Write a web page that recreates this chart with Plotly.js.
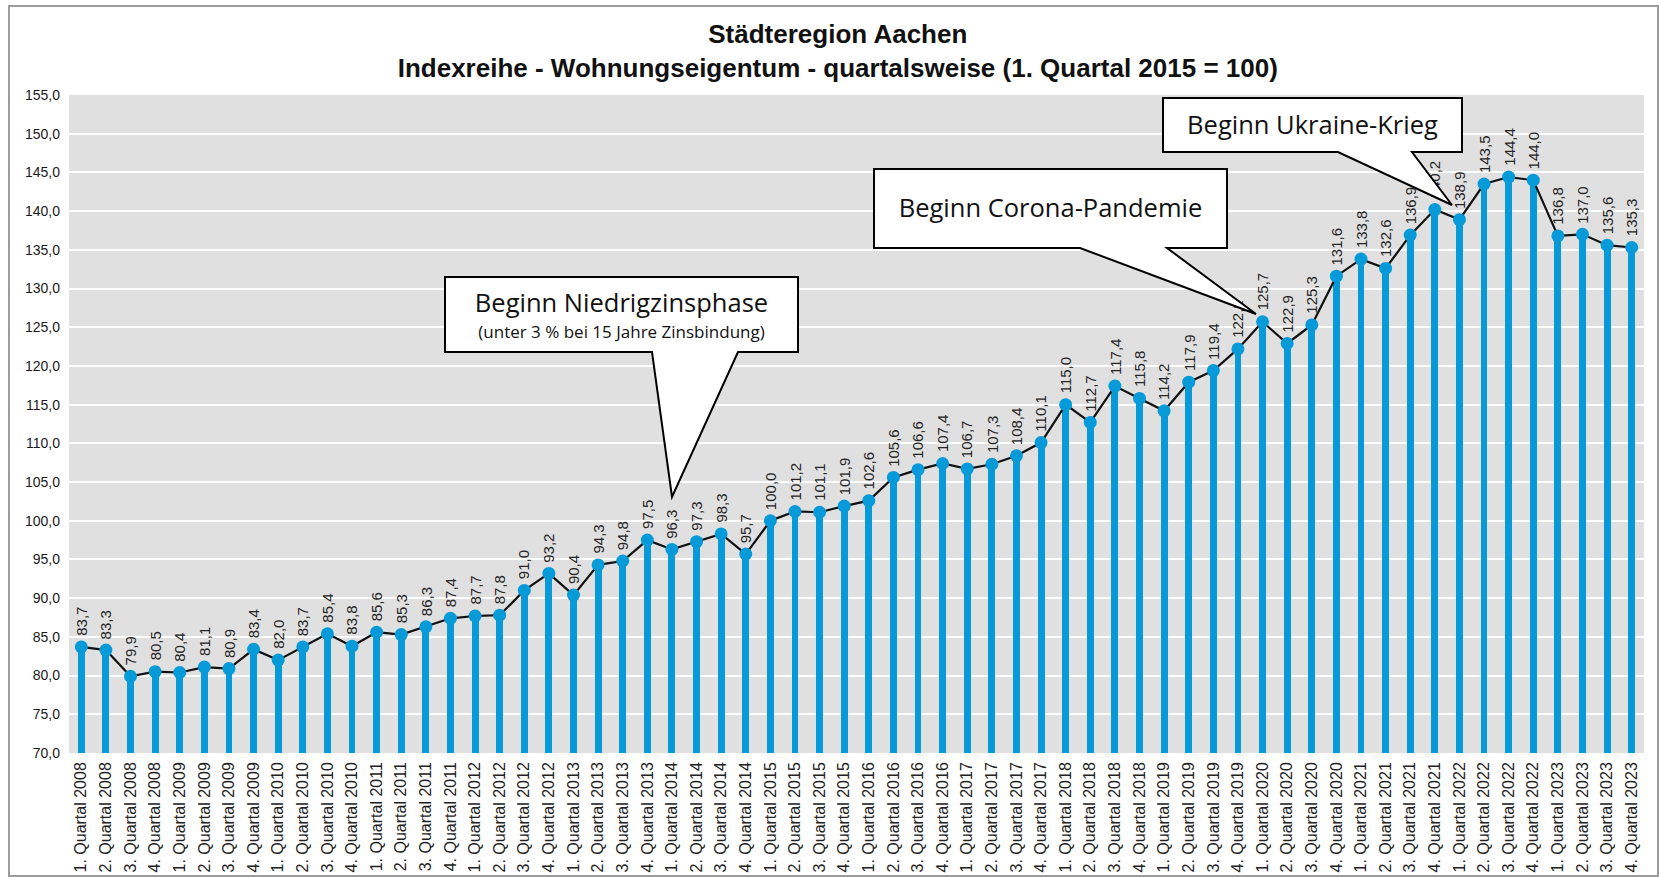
<!DOCTYPE html>
<html>
<head>
<meta charset="utf-8">
<script src="https://cdn.plot.ly/plotly-3.0.1.min.js"></script>
<style>
  html, body { margin: 0; padding: 0; background: #ffffff; }
  #wrap { position: relative; width: 1659px; height: 877px; }
  #chart { position: absolute; left: 0; top: 0; width: 1659px; height: 877px; }
  #frame { position: absolute; left: 8px; top: 5px; width: 1647px; height: 868px;
           border: 2px solid #9c9c9c; pointer-events: none; }
</style>
</head>
<body>
<div id="wrap">
  <div id="chart"></div>
  <div id="frame"></div>
</div>
<script>
// ---- Data ----
const categories = [
  '1. Quartal 2008','2. Quartal 2008','3. Quartal 2008','4. Quartal 2008',
  '1. Quartal 2009','2. Quartal 2009','3. Quartal 2009','4. Quartal 2009',
  '1. Quartal 2010','2. Quartal 2010','3. Quartal 2010','4. Quartal 2010',
  '1. Quartal 2011','2. Quartal 2011','3. Quartal 2011','4. Quartal 2011',
  '1. Quartal 2012','2. Quartal 2012','3. Quartal 2012','4. Quartal 2012',
  '1. Quartal 2013','2. Quartal 2013','3. Quartal 2013','4. Quartal 2013',
  '1. Quartal 2014','2. Quartal 2014','3. Quartal 2014','4. Quartal 2014',
  '1. Quartal 2015','2. Quartal 2015','3. Quartal 2015','4. Quartal 2015',
  '1. Quartal 2016','2. Quartal 2016','3. Quartal 2016','4. Quartal 2016',
  '1. Quartal 2017','2. Quartal 2017','3. Quartal 2017','4. Quartal 2017',
  '1. Quartal 2018','2. Quartal 2018','3. Quartal 2018','4. Quartal 2018',
  '1. Quartal 2019','2. Quartal 2019','3. Quartal 2019','4. Quartal 2019',
  '1. Quartal 2020','2. Quartal 2020','3. Quartal 2020','4. Quartal 2020',
  '1. Quartal 2021','2. Quartal 2021','3. Quartal 2021','4. Quartal 2021',
  '1. Quartal 2022','2. Quartal 2022','3. Quartal 2022','4. Quartal 2022',
  '1. Quartal 2023','2. Quartal 2023','3. Quartal 2023','4. Quartal 2023'
];
const indexValues = [
  83.7, 83.3, 79.9, 80.5,
  80.4, 81.1, 80.9, 83.4,
  82.0, 83.7, 85.4, 83.8,
  85.6, 85.3, 86.3, 87.4,
  87.7, 87.8, 91.0, 93.2,
  90.4, 94.3, 94.8, 97.5,
  96.3, 97.3, 98.3, 95.7,
  100.0, 101.2, 101.1, 101.9,
  102.6, 105.6, 106.6, 107.4,
  106.7, 107.3, 108.4, 110.1,
  115.0, 112.7, 117.4, 115.8,
  114.2, 117.9, 119.4, 122.2,
  125.7, 122.9, 125.3, 131.6,
  133.8, 132.6, 136.9, 140.2,
  138.9, 143.5, 144.4, 144.0,
  136.8, 137.0, 135.6, 135.3
];
const titleLines = ['Städteregion Aachen', 'Indexreihe - Wohnungseigentum - quartalsweise (1. Quartal 2015 = 100)'];
const calloutTexts = [
  'Beginn Niedrigzinsphase',
  '(unter 3 % bei 15 Jahre Zinsbindung)',
  'Beginn Corona-Pandemie',
  'Beginn Ukraine-Krieg'
];

// ---- Styling / layout helpers ----
const BLUE = '#069ad9';
const W = 1659, H = 877;
const M = { l: 69, r: 15, t: 95, b: 124 };
const PW = W - M.l - M.r, PH = H - M.t - M.b;
function px(x, y) { return [(x - M.l) / PW, (H - M.b - y) / PH]; }
function pathFrom(pts) {
  return pts.map((p, i) => {
    const q = px(p[0], p[1]);
    return (i === 0 ? 'M' : 'L') + q[0].toFixed(5) + ',' + q[1].toFixed(5);
  }).join(' ') + ' Z';
}
function callout(box, base, tip) {
  const [x0, y0, x1, y1] = box;
  return pathFrom([[x0, y0], [x1, y0], [x1, y1], [base[1], y1], tip, [base[0], y1], [x0, y1]]);
}
function fmt(v) { return v.toFixed(1).replace('.', ','); }

const barTrace = {
  type: 'bar', x: categories, y: indexValues,
  width: 0.28, marker: { color: BLUE, line: { width: 0 } },
  hoverinfo: 'skip'
};
const lineTrace = {
  type: 'scatter', mode: 'lines+markers', x: categories, y: indexValues,
  line: { color: '#111111', width: 2.2 },
  marker: { color: BLUE, size: 13 },
  hoverinfo: 'skip', cliponaxis: false
};

const labelAnnotations = indexValues.map((v, i) => ({
  x: categories[i], y: v, xref: 'x', yref: 'y',
  text: fmt(v), showarrow: false, textangle: -90,
  xanchor: 'center', yanchor: 'bottom', yshift: 9,
  font: { family: 'Liberation Sans, Arial, sans-serif', size: 15, color: '#262626' }
}));

const c1 = { box: [445, 277, 798, 352], base: [652, 738], tip: [672, 497] };
const c2 = { box: [874, 169, 1227, 248], base: [1080, 1167], tip: [1256, 314] };
const c3 = { box: [1163, 98, 1462, 152], base: [1338, 1412], tip: [1452, 205] };
const calloutFont = { family: 'Open Sans, sans-serif', size: 25.5, color: '#111111' };

function textRect(x0, y0, x1, y1, text, font) {
  const a = px(x0, y1), b = px(x1, y0);
  return {
    type: 'rect', xref: 'paper', yref: 'paper', layer: 'above',
    x0: a[0], y0: a[1], x1: b[0], y1: b[1],
    line: { width: 0 }, fillcolor: 'rgba(0,0,0,0)',
    label: { text: text, textposition: 'middle center', font: font }
  };
}
function boxRect(c, text) {
  return textRect(c.box[0], c.box[1], c.box[2], c.box[3], text, calloutFont);
}
function boxPath(c) {
  return {
    type: 'path', xref: 'paper', yref: 'paper', layer: 'above',
    path: callout(c.box, c.base, c.tip),
    fillcolor: '#ffffff', line: { color: '#000000', width: 2 }
  };
}

const shapes = [
  boxPath(c1),
  textRect(c1.box[0], 284, c1.box[2], 322, calloutTexts[0], calloutFont),
  textRect(c1.box[0], 321, c1.box[2], 343, calloutTexts[1], Object.assign({}, calloutFont, { size: 17 })),
  boxPath(c2), boxRect(c2, calloutTexts[2]),
  boxPath(c3), boxRect(c3, calloutTexts[3])
];

const layout = {
  width: W, height: H,
  margin: M,
  paper_bgcolor: '#ffffff', plot_bgcolor: '#e0e0e0',
  separators: ',.',
  showlegend: false,
  title: {
    text: titleLines.join('<br>'),
    xref: 'container', yref: 'container', x: 0.505, y: 0.951,
    xanchor: 'center', yanchor: 'top',
    font: { family: 'Liberation Sans, Arial, sans-serif', size: 26, weight: 'bold', color: '#111111' }
  },
  xaxis: {
    type: 'category', range: [-0.5, 63.5], tickangle: -90, ticks: '',
    showgrid: false, zeroline: false, showline: false,
    ticklabelstandoff: 5,
    tickfont: { family: 'Liberation Sans, Arial, sans-serif', size: 16, color: '#222222' }
  },
  yaxis: {
    range: [70, 155], tick0: 70, dtick: 5, tickformat: '.1f',
    showgrid: true, gridcolor: '#ffffff', gridwidth: 2,
    zeroline: false, showline: false, ticks: '',
    ticklabelstandoff: 8,
    tickfont: { family: 'Liberation Sans, Arial, sans-serif', size: 14, color: '#1a1a1a' }
  },
  bargap: 0,
  annotations: labelAnnotations,
  shapes: shapes
};

Plotly.newPlot('chart', [barTrace, lineTrace], layout, { staticPlot: true, displayModeBar: false })
  .then(gd => {
    const la = gd.querySelector('.layer-above');
    if (la && la.parentNode) la.parentNode.appendChild(la);
  });
</script>
</body>
</html>
